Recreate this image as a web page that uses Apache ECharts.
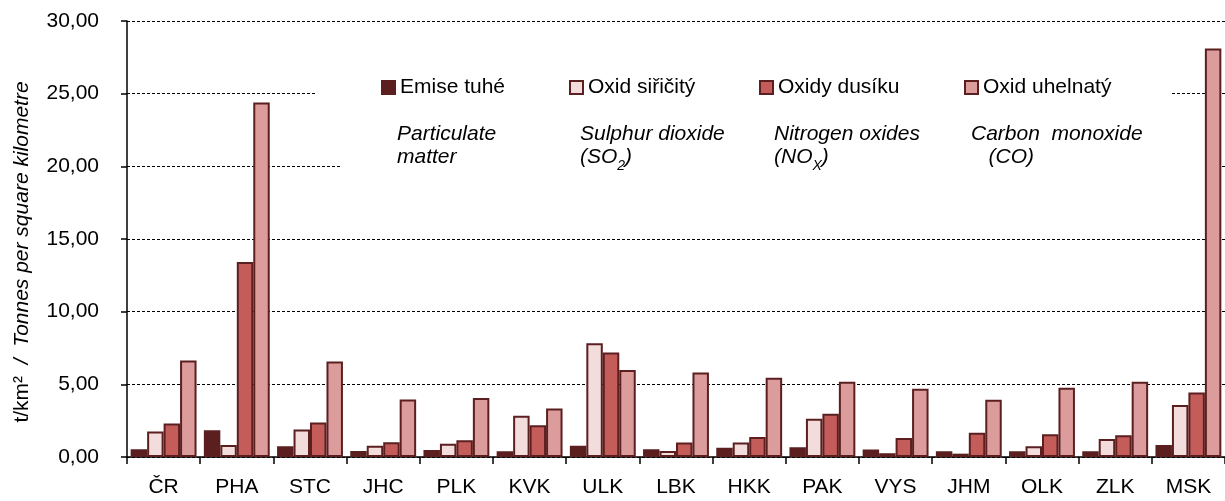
<!DOCTYPE html>
<html>
<head>
<meta charset="utf-8">
<script src="https://cdn.jsdelivr.net/npm/echarts@6/dist/echarts.min.js"></script>
<style>html,body{margin:0;padding:0;background:#fff}#c{width:1225px;height:501px}</style>
</head>
<body>
<div id="c"></div>
<script>
const categories = ['ČR','PHA','STC','JHC','PLK','KVK','ULK','LBK','HKK','PAK','VYS','JHM','OLK','ZLK','MSK'];
const particulate = [0.53,1.84,0.74,0.41,0.48,0.39,0.78,0.53,0.64,0.67,0.51,0.39,0.39,0.39,0.83];
const sulphurDioxide = [1.75,0.83,1.89,0.78,0.92,2.83,7.83,0.41,0.99,2.63,0.26,0.23,0.74,1.24,3.57];
const nitrogenOxides = [2.30,13.42,2.37,1.01,1.15,2.18,7.19,0.99,1.38,2.97,1.30,1.66,1.57,1.49,4.43];
const carbonMonoxide = [6.64,24.40,6.57,3.96,4.06,3.34,5.99,5.81,5.46,5.18,4.70,3.94,4.76,5.17,28.10];
const seriesNames = ['Emise tuhé','Oxid siřičitý','Oxidy dusíku','Oxid uhelnatý'];
const englishNames = ['{i|Particulate}\n{i|matter}', '{i|Sulphur dioxide}\n{i|(SO}{s|2}{i|)}', '{i|Nitrogen oxides}\n{i|(NO}{s|X}{i|)}', '{i|Carbon  monoxide}\n{i|   (CO)}'];
const yAxisTitle = '{a|t/km²}{b|  /  Tonnes per square kilometre}';

const FONT = 'Liberation Sans';
const BORDER = '#5b1f20';
const fills = ['#5b1f20','#f3dcdc','#c45c5a','#dc9c9c'];
const seriesData = [particulate, sulphurDioxide, nitrogenOxides, carbonMonoxide];
const legendLeft = [381, 569, 759, 964];
const textLeft = [397, 580, 774, 971];

const chart = echarts.init(document.getElementById('c'), null, {renderer:'canvas'});
const option = {
  animation: false,
  backgroundColor: '#fff',
  grid: {left: 127, top: 21, bottom: 44, right: -8.25, containLabel: false},
  legend: seriesNames.map((n, i) => ({
    data: [n], left: legendLeft[i], top: 77, padding: 0,
    itemWidth: 13, itemHeight: 13, icon: 'rect',
    textStyle: {fontFamily: FONT, fontSize: 21, color: '#000'}
  })),
  xAxis: {
    type: 'category', data: categories,
    axisLine: {lineStyle: {color: '#000', width: 1.5}},
    axisTick: {show: true, length: 7, lineStyle: {color: '#000', width: 1.5}},
    axisLabel: {fontFamily: FONT, fontSize: 21, color: '#000', margin: 20}
  },
  yAxis: {
    type: 'value', min: 0, max: 30, interval: 5,
    axisLine: {show: true, lineStyle: {color: '#000', width: 1.5}},
    axisTick: {show: true, length: 6, lineStyle: {color: '#000', width: 1.5}},
    axisLabel: {fontFamily: FONT, fontSize: 21, color: '#000', margin: 28,
      formatter: v => v.toFixed(2).replace('.', ',')},
    splitLine: {show: true, lineStyle: {color: '#000', width: 1, type: [3, 2]}}
  },
  series: seriesNames.map((n, i) => ({
    name: n, type: 'bar', data: seriesData[i],
    barGap: '0%', barCategoryGap: '10%',
    itemStyle: {color: fills[i], borderColor: BORDER, borderWidth: 2}
  })),
  graphic: {
    elements: [
      {type: 'rect', z: 1, shape: {x: 315, y: 78, width: 857, height: 24}, style: {fill: '#fff'}},
      {type: 'rect', z: 1, shape: {x: 340, y: 112, width: 868, height: 66}, style: {fill: '#fff'}},
      {type: 'text', z: 5, x: 22, y: 252, rotation: Math.PI / 2,
        style: {text: yAxisTitle, align: 'center', verticalAlign: 'middle',
          rich: {a: {fontFamily: FONT, fontSize: 21, fill: '#000'},
                 b: {fontFamily: FONT, fontSize: 21, fontStyle: 'italic', fill: '#000'}}}}
    ].concat(englishNames.map((t, i) => ({
      type: 'text', z: 5, x: textLeft[i], y: 123,
      style: {text: t, align: 'left', verticalAlign: 'top',
        rich: {i: {fontFamily: FONT, fontSize: 21, fontStyle: 'italic', fill: '#000', lineHeight: 23},
               s: {fontFamily: FONT, fontSize: 14, fontStyle: 'italic', fill: '#000', lineHeight: 23, verticalAlign: 'bottom', padding: [0,0,-4,0]}}}
    })))
  }
};
chart.setOption(option);
</script>
</body>
</html>
